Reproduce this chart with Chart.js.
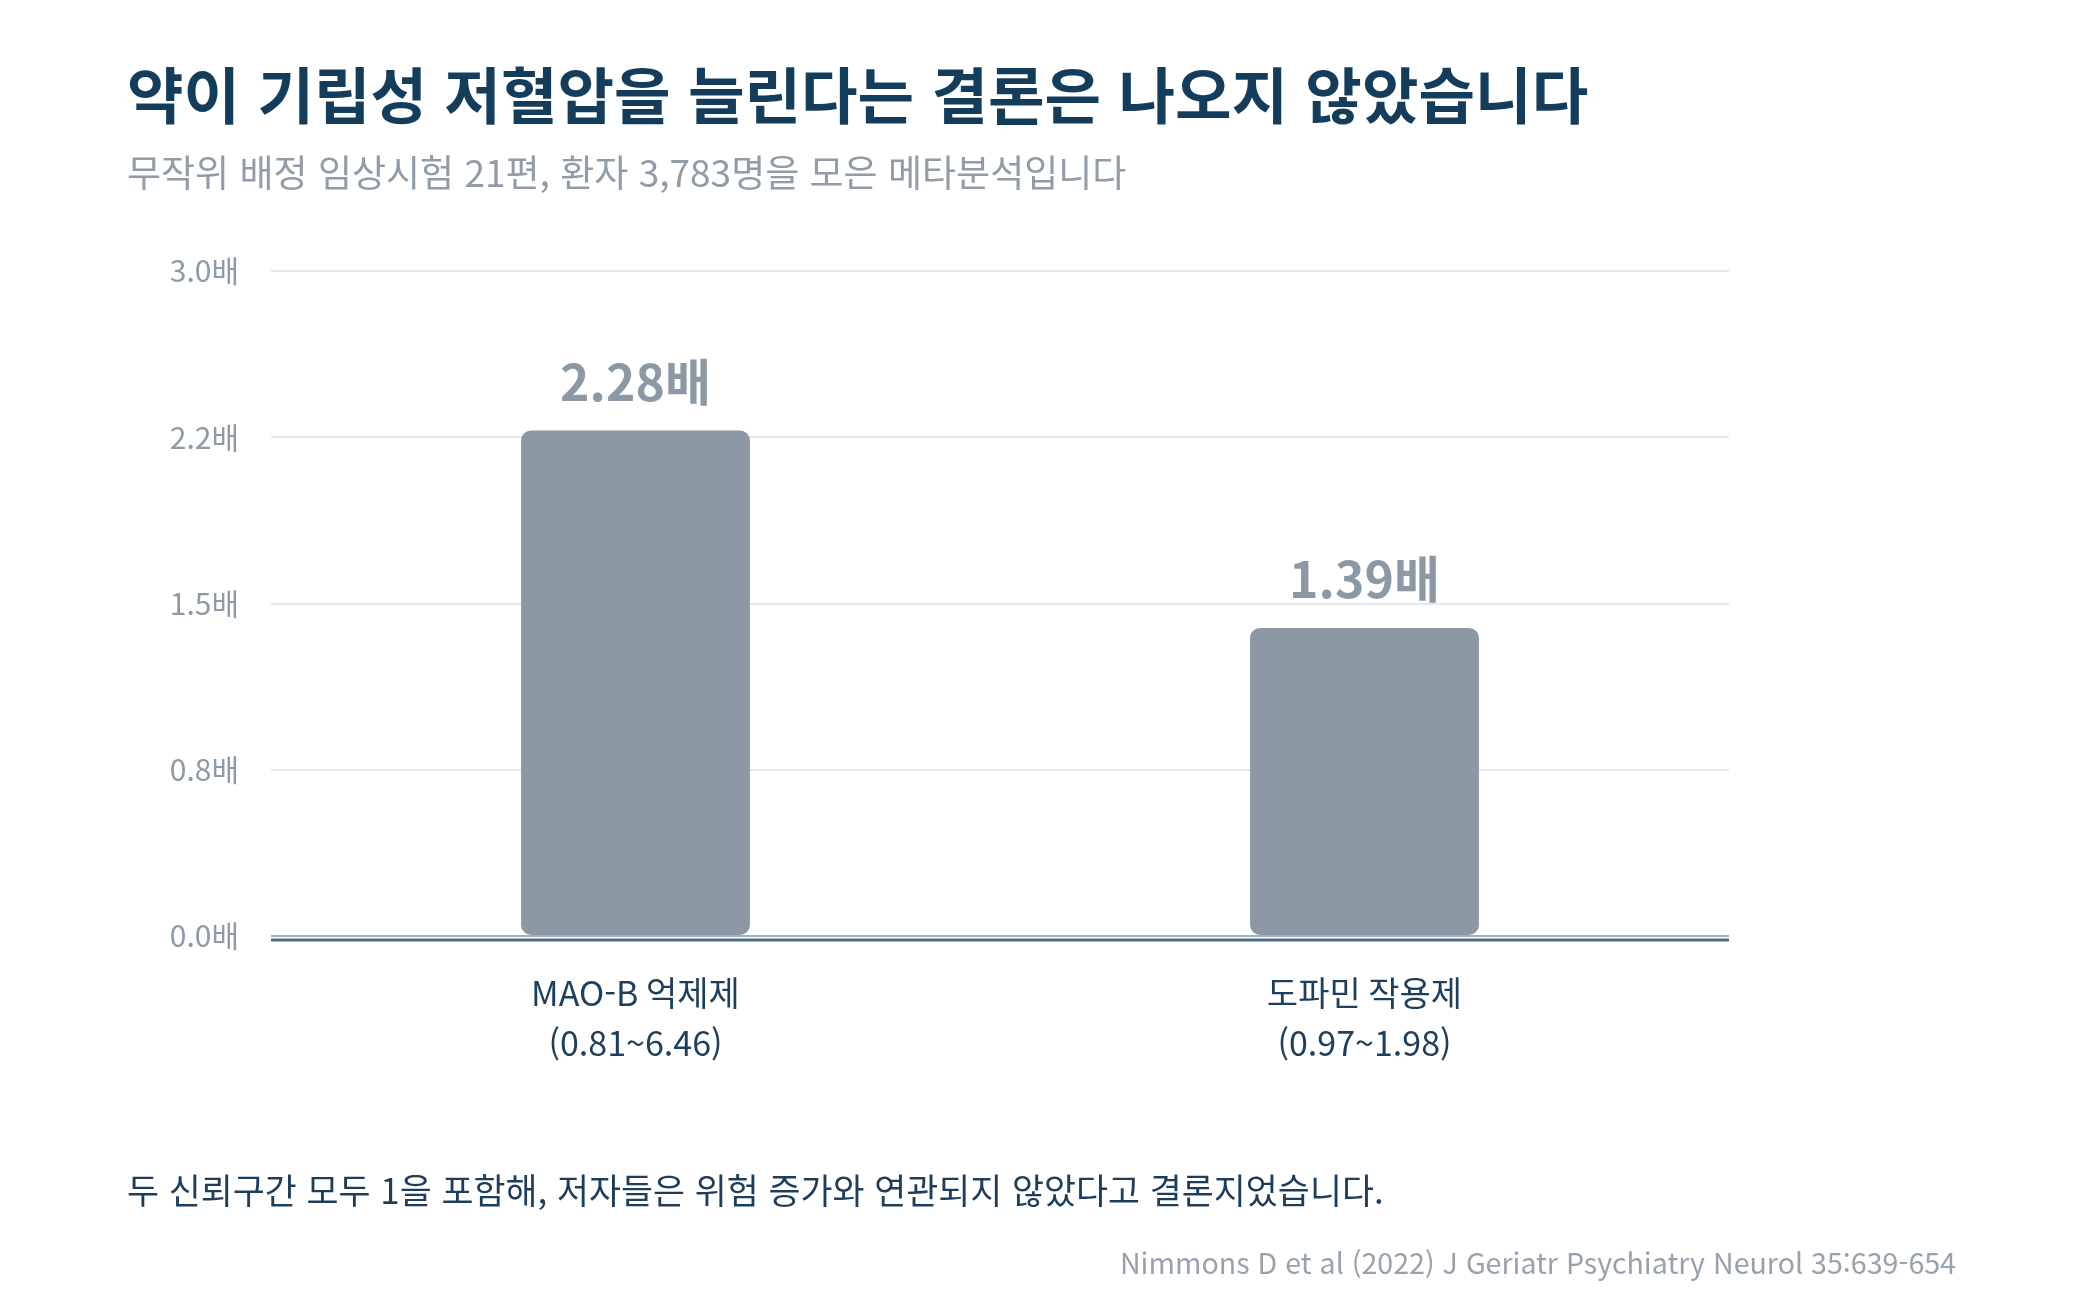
<!DOCTYPE html>
<html lang="ko">
<head>
<meta charset="utf-8">
<script src="https://cdn.jsdelivr.net/npm/chart.js@4.4.1/dist/chart.umd.min.js"></script>
<style>
    html, body { margin: 0; padding: 0; background: #ffffff; }
    body { width: 2083px; height: 1313px; position: relative; overflow: hidden; font-family: 'Noto Sans CJK KR', 'Noto Sans', sans-serif; }
    .txt { position: absolute; line-height: 1; white-space: nowrap; }
    #title { left: 127px; top: 62px; font-size: 61.5px; font-weight: 700; color: #143d5c; }
    #subtitle { left: 127px; top: 153px; font-size: 37px; color: #919ca7; }
    #note { left: 127px; top: 1172px; font-size: 34.8px; color: #1d3d5a; }
    #source { right: 127px; top: 1248px; font-size: 28.6px; color: #98a2ac; }
    #wrap { position: absolute; left: 0; top: 0; width: 2083px; height: 1313px; }
</style>
</head>
<body>
<div id="wrap"><canvas id="ratioChart"></canvas></div>
<div class="txt" id="title">약이 기립성 저혈압을 늘린다는 결론은 나오지 않았습니다</div>
<div class="txt" id="subtitle">무작위 배정 임상시험 21편, 환자 3,783명을 모은 메타분석입니다</div>
<div class="txt" id="note">두 신뢰구간 모두 1을 포함해, 저자들은 위험 증가와 연관되지 않았다고 결론지었습니다.</div>
<div class="txt" id="source">Nimmons D et al (2022) J Geriatr Psychiatry Neurol 35:639-654</div>
<script>
'use strict';
// data
let drugGroups = [['MAO-B 억제제', '(0.81~6.46)'], ['도파민 작용제', '(0.97~1.98)']];
let oddsRatios = [2.28, 1.39];
let valueLabels = ['2.28배', '1.39배'];
let yTickLabels = ['0.0배', '0.8배', '1.5배', '2.2배', '3.0배'];

let barColor = '#8c99a4';
let fontFamily = "'Noto Sans CJK KR', 'Noto Sans', sans-serif";

Chart.defaults.font.family = fontFamily;

// bold value above each bar
const valueLabelPlugin = {
    id: 'valueLabels',
    afterDatasetsDraw(chart) {
        let ctx = chart.ctx;
        let meta = chart.getDatasetMeta(0);
        ctx.save();
        ctx.font = '700 50px ' + fontFamily;
        ctx.fillStyle = barColor;
        ctx.textAlign = 'center';
        ctx.textBaseline = 'alphabetic';
        meta.data.forEach((bar, i) => {
            ctx.fillText(valueLabels[i], bar.x, bar.y - 30);
        });
        ctx.restore();
    }
};

// dark base line just under the zero line
const baseLinePlugin = {
    id: 'baseLine',
    afterDraw(chart) {
        let ctx = chart.ctx;
        let y0 = chart.scales.y.getPixelForValue(0);
        ctx.save();
        ctx.strokeStyle = '#4d6b84';
        ctx.lineWidth = 3;
        ctx.beginPath();
        ctx.moveTo(chart.chartArea.left, y0 + 4);
        ctx.lineTo(chart.chartArea.right, y0 + 4);
        ctx.stroke();
        ctx.restore();
    }
};

let ctxRatio = document.getElementById('ratioChart').getContext('2d');
let ratioChart = new Chart(ctxRatio, {
    type: 'bar',
    data: {
        labels: drugGroups,
        datasets: [{
            data: oddsRatios,
            backgroundColor: barColor,
            borderRadius: 10,
            borderSkipped: false,
            categoryPercentage: 1,
            barPercentage: 0.314,
        }]
    },
    options: {
        maintainAspectRatio: false,
        responsive: true,
        animation: false,
        layout: {
            padding: {left: 99, right: 354, top: 271, bottom: 237}
        },
        scales: {
            x: {
                grid: {display: false, drawTicks: false},
                border: {display: false},
                ticks: {
                    color: '#1e3f5c',
                    padding: 32,
                    font: {size: 34, lineHeight: 1.47},
                },
                afterFit: scale => { scale.height = 140; }
            },
            y: {
                min: 0,
                max: 3,
                grid: {
                    drawTicks: false,
                    lineWidth: 2,
                    color: ctx => ctx.tick && ctx.tick.value === 0 ? '#9fb1c0' : '#e6e9ec',
                },
                border: {display: false},
                ticks: {
                    stepSize: 0.75,
                    padding: 32,
                    color: '#8e9aa6',
                    font: {size: 30},
                    callback: (value, index) => yTickLabels[index]
                },
                afterFit: scale => { scale.width = 172; }
            }
        },
        plugins: {
            legend: {display: false},
            title: {display: false},
            tooltip: {enabled: false}
        }
    },
    plugins: [valueLabelPlugin, baseLinePlugin]
});
</script>
</body>
</html>
